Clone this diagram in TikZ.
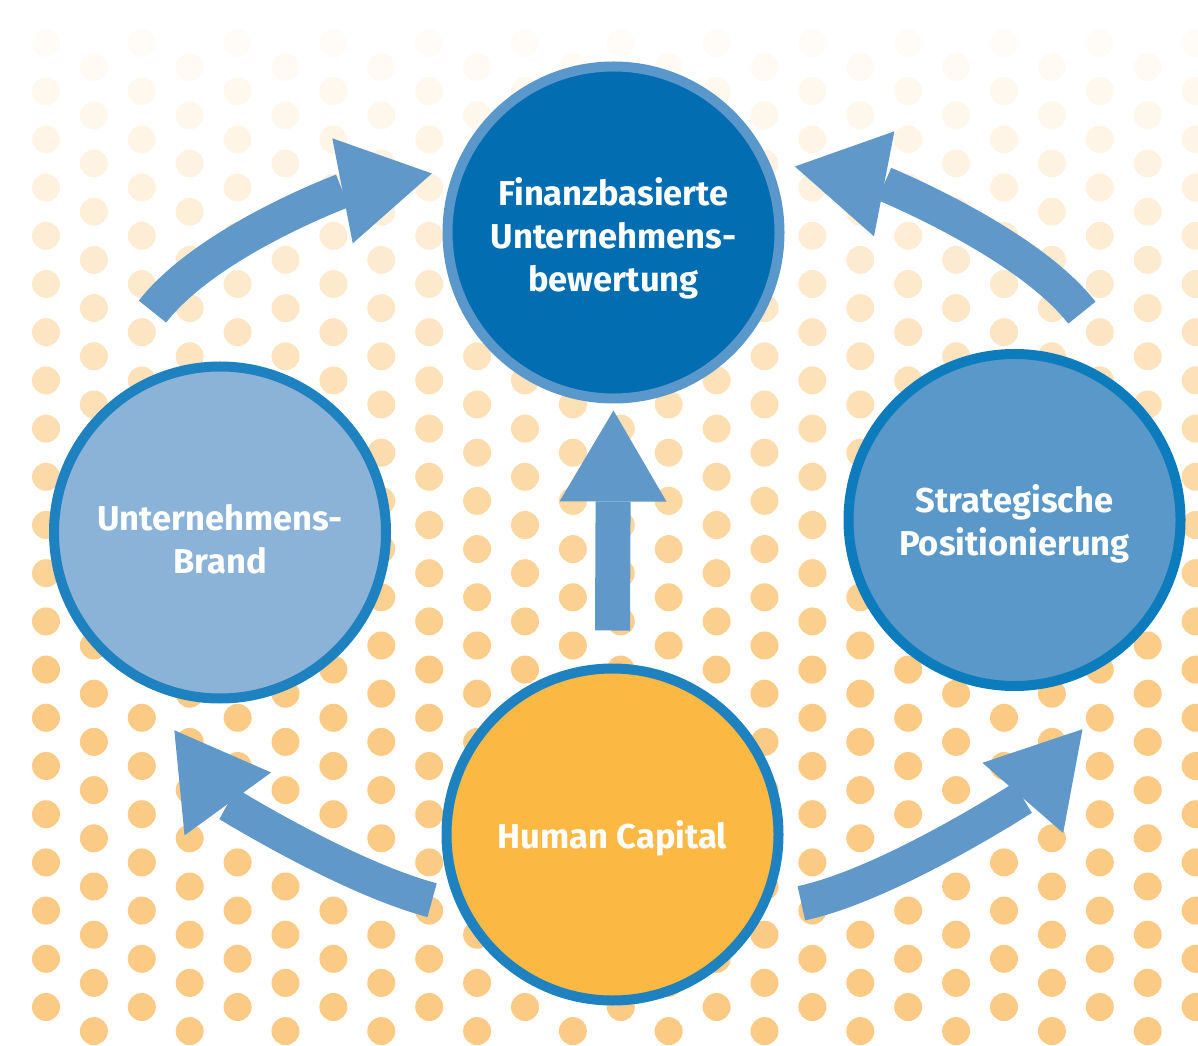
\documentclass[tikz,border=0pt]{standalone}
\usepackage{fontspec}
\setsansfont{Fira Sans}
\usetikzlibrary{arrows.meta}
\definecolor{dotorange}{RGB}{251,203,133}
\definecolor{darkblue}{RGB}{2,109,176}
\definecolor{midblue}{RGB}{90,152,201}
\definecolor{lightblue}{RGB}{139,178,215}
\definecolor{ringblue}{RGB}{29,130,191}
\definecolor{ringdark}{RGB}{13,124,189}
\definecolor{ringlight}{RGB}{90,152,203}
\definecolor{capital}{RGB}{251,184,67}
\definecolor{flowblue}{RGB}{96,152,201}
\newcommand{\lowered}[2]{\raisebox{-#1}[\height][\depth]{\begin{tabular}{@{}c@{}}#2\end{tabular}}}

\begin{document}
\begin{tikzpicture}[
    x=1pt, y=1pt,
    topic/.style={circle, draw, line width=10pt, minimum size=332pt, inner sep=0pt,
        text=white, font=\sffamily\bfseries\fontsize{34.5}{43}\selectfont},
    flow/.style={draw=flowblue, line width=35pt,
        -{Triangle[width=107pt, length=91pt, line width=0pt]}}
    ]
\useasboundingbox (0,0) rectangle (1198,1045);

\foreach \k in {0,...,41} {
    \pgfmathsetmacro{\dy}{1002-24.1*\k}
    \pgfmathtruncatemacro{\tone}{min(100, 6+\k*24.1/620*94)}
    \foreach \i in {0,...,12} {
        \pgfmathsetmacro{\dx}{46+95.8*\i+47.9*mod(\k,2)}
        \fill[dotorange!\tone!white] (\dx,\dy) circle (14pt);
    }
}

\node[topic, fill=darkblue, draw=ringlight] (fin) at (613.5,812.5) {\lowered{7pt}{Finanzbasierte\\Unternehmens-\\bewertung}};
\node[topic, fill=lightblue, draw=ringblue] (brand) at (220,512.5) {\lowered{11pt}{Unternehmens-\\Brand}};
\node[topic, fill=midblue, draw=ringdark] (strat) at (1014.5,525) {\lowered{5pt}{Strategische\\Positionierung}};
\node[topic, fill=capital, draw=ringblue] (human) at (612.5,210.5) {\lowered{5pt}{Human Capital}};

\draw[flow] ([shift={(107:231)}]brand.center) .. controls +(52:90) and +(191:90) .. ([shift={(162:191)}]fin.center);
\draw[flow] ([shift={(72:218)}]strat.center) .. controls +(128:90) and +(349:90) .. ([shift={(20:193)}]fin.center);
\draw[flow] ([shift={(200:192)}]human.center) .. controls +(165:90) and +(306:90) .. ([shift={(257:203)}]brand.center);
\draw[flow] ([shift={(340:201)}]human.center) .. controls +(12:90) and +(229:90) .. ([shift={(288:220)}]strat.center);
\draw[flow] ([yshift=33pt]human.north) -- ([yshift=-7pt]fin.south);
\end{tikzpicture}
\end{document}
